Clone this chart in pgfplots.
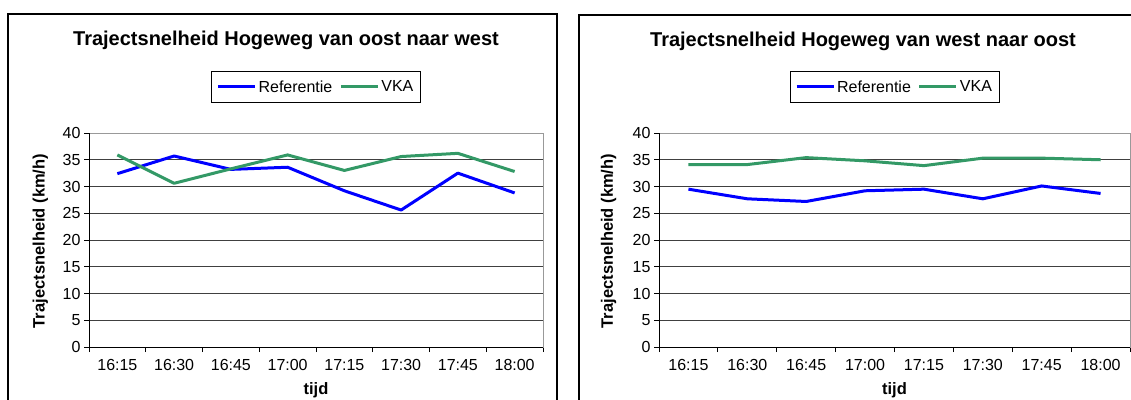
\documentclass[border=0pt]{standalone}
\usepackage{pgfplots}
\pgfplotsset{compat=1.18}
\usepackage{fontspec}
\setmainfont{Liberation Sans}
\definecolor{vka}{RGB}{51,153,102}
\pgfplotsset{
  common/.style={
    scale only axis,
    anchor=south west,
    height=214pt,
    xmin=0.5, xmax=8.5, ymin=0, ymax=40,
    ytick={0,5,...,40},
    xtick={0.5,1.5,2.5,3.5,4.5,5.5,6.5,7.5,8.5},
    xticklabels={16:15,16:30,16:45,17:00,17:15,17:30,17:45,18:00},
    x tick label as interval,
    tick align=outside, tick pos=left,
    major tick length=5pt,
    tick style={black, line width=0.8pt},
    ymajorgrids, grid style={black!75, line width=0.8pt},
    axis line style={gray!80, line width=1pt},
    /pgf/number format/assume math mode=true,
    tick label style={font=\fontsize{16}{18}\selectfont},
    xticklabel style={yshift=-4pt},
    xlabel={\textbf{tijd}},
    ylabel={\textbf{Trajectsnelheid (km/h)}},
    label style={font=\fontsize{16.5}{18}\selectfont},
    xlabel style={at={(axis description cs:0.5,-0.2)}, anchor=center},
    ylabel style={at={(axis description cs:-0.107,0.495)}, anchor=center, rotate=0},
    legend columns=2,
    legend style={at={(0.5,1.215)}, anchor=center, draw=black, line width=0.8pt,
      font=\fontsize{16}{18}\selectfont, inner xsep=5pt, inner ysep=7pt,
      /tikz/every even column/.append style={column sep=5pt}},
    legend image code/.code={\draw[##1, line width=3pt] (0pt,0pt) -- (37pt,0pt);},
    every axis plot/.append style={line width=3pt, line join=round},
  }
}
\begin{document}
\begin{tikzpicture}
\useasboundingbox (0,0) rectangle (1131pt,399pt);
\clip (0,0) rectangle (1131pt,399pt);
\draw[black, line width=1.3pt] (8pt,-10pt) rectangle (557pt,385pt);
\draw[black, line width=1.3pt] (579pt,-10pt) rectangle (1145pt,384pt);
\node[font=\bfseries\fontsize{20}{22}\selectfont] at (286pt,359pt) {Trajectsnelheid Hogeweg van oost naar west};
\node[font=\bfseries\fontsize{20}{22}\selectfont] at (863pt,358pt) {Trajectsnelheid Hogeweg van west naar oost};
\begin{axis}[common, at={(89pt,52pt)}, width=454pt]
\addplot[blue] coordinates {(1,32.4) (2,35.7) (3,33.2) (4,33.6) (5,29.2) (6,25.6) (7,32.5) (8,28.8)};
\addlegendentry{Referentie}
\addplot[vka] coordinates {(1,35.9) (2,30.6) (3,33.3) (4,35.9) (5,33.0) (6,35.6) (7,36.2) (8,32.8)};
\addlegendentry{VKA}
\draw[black, line width=1pt] (rel axis cs:0,1) -- (rel axis cs:0,0) -- (rel axis cs:1,0);
\end{axis}
\begin{axis}[common, at={(659pt,52pt)}, width=471pt]
\addplot[blue] coordinates {(1,29.5) (2,27.7) (3,27.2) (4,29.2) (5,29.5) (6,27.7) (7,30.1) (8,28.7)};
\addlegendentry{Referentie}
\addplot[vka] coordinates {(1,34.1) (2,34.1) (3,35.4) (4,34.8) (5,33.9) (6,35.3) (7,35.3) (8,35.0)};
\addlegendentry{VKA}
\draw[black, line width=1pt] (rel axis cs:0,1) -- (rel axis cs:0,0) -- (rel axis cs:1,0);
\end{axis}
\end{tikzpicture}
\end{document}
